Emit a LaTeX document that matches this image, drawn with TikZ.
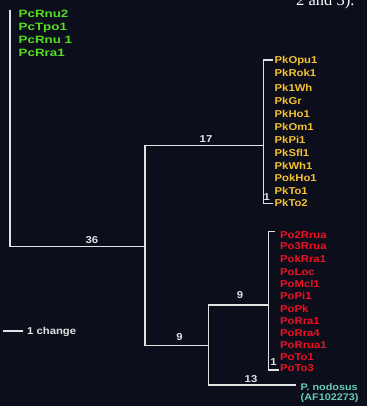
\documentclass[tikz,border=0pt]{standalone}
\usepackage{fontspec}
\setmainfont{Liberation Sans}
\newfontfamily\labfont{Liberation Sans Bold}[FakeStretch=1.13]
\newfontfamily\grfont{Liberation Sans Bold}[FakeStretch=1.26]
\newfontfamily\serf{Liberation Serif}
\usepackage{tikz}

\definecolor{bg}{HTML}{0D0E1C}
\definecolor{ln}{HTML}{E2E2E2}
\definecolor{pcgreen}{HTML}{55DD22}
\definecolor{pkyellow}{HTML}{F2C230}
\definecolor{pored}{HTML}{EE1122}
\definecolor{ndcyan}{HTML}{66CCBB}

\tikzset{
  br/.style={draw=ln, line width=1.2pt},
  lab/.style={anchor=west, inner sep=0pt, text height=7pt, text depth=0pt, font=\labfont\fontsize{10}{12}\selectfont},
  num/.style={inner sep=0pt, text height=7pt, text depth=0pt, text=ln, font=\labfont\fontsize{10}{12}\selectfont}
}

\begin{document}
\begin{tikzpicture}[x=1pt, y=-1pt] % pixel-like units, y goes down
  \fill[bg] (0,0) rectangle (367,406); % background
  \useasboundingbox (0,0) rectangle (367,406);

  \node[anchor=base west, inner sep=0pt, text=white, font=\serf\fontsize{16.5}{18}\selectfont] (cap) at (296,5.5) {2 and 3).}; % caption rest, cut at top

  % tree vertices
  \coordinate (root) at (10,10);
  \coordinate (nA) at (145,246.3);
  \coordinate (nPk) at (263.3,145.3);
  \coordinate (nC) at (208.7,345.7);
  \coordinate (nPo) at (268.3,305);
  \coordinate (tPk1) at (273.3,60);
  \coordinate (tPk2) at (273.3,203.3);
  \coordinate (tPo1) at (275,231.7);
  \coordinate (tPo2) at (279,370);
  \coordinate (tNd) at (296,385);

  \draw[br] (root) |- (nA); % stem of the outgroup clade
  \draw[br] (nA) |- (nPk);
  \draw[br] (nA) |- (nC);
  \draw[br] (tPk1) -| (nPk) |- (tPk2); % Pk clade
  \draw[br] (nPo) -| (nC) |- (tNd);
  \draw[br] (tPo1) -| (nPo) |- (tPo2); % Po clade

  % branch numbers
  \node[num] (l36) at (92,240) {36};
  \node[num] (l17) at (206,139) {17};
  \node[num] (l9a) at (179.5,336.7) {9};
  \node[num] (l9b) at (240,295.3) {9};
  \node[num] (l13) at (251,379) {13};
  \node[num] (l1a) at (266.7,197) {1};
  \node[num] (l1b) at (273.5,361.7) {1};

  % leaves
  \foreach \y/\t [count=\i] in {14.5/PcRnu2, 27/PcTpo1, 40.3/PcRnu 1, 53/PcRra1}
    \node[lab, text=pcgreen, font=\grfont\fontsize{10.6}{12}\selectfont] (pc\i) at (18.5,\y) {\t};
  \foreach \y/\t [count=\i] in {60/PkOpu1, 73/PkRok1, 88/Pk1Wh, 101/PkGr, 114/PkHo1, 127/PkOm1,
      140/PkPi1, 153/PkSfl1, 165.5/PkWh1, 178/PokHo1, 190.5/PkTo1, 203/PkTo2}
    \node[lab, text=pkyellow] (pk\i) at (274.5,\y) {\t};
  \foreach \y/\t [count=\i] in {234.5/Po2Rrua, 246/Po3Rrua, 258.5/PokRra1, 271.5/PoLoc, 283.5/PoMcl1,
      296/PoPi1, 309/PoPk, 320.7/PoRra1, 333.3/PoRra4, 345/PoRrua1, 357/PoTo1, 367.5/PoTo3}
    \node[lab, text=pored] (po\i) at (280,\y) {\t};
  \node[lab, text=ndcyan, font=\labfont\fontsize{9.6}{11}\selectfont] (nd1) at (300.5,387) {P. nodosus};
  \node[lab, text=ndcyan, font=\labfont\fontsize{9.6}{11}\selectfont] (nd2) at (300.5,397) {(AF102273)};

  % scale bar
  \coordinate (sb1) at (2.7,331);
  \coordinate (sb2) at (22.7,331);
  \draw[br] (sb1) -- (sb2);
  \node[lab, text=ln] (sbl) at (27,331) {1 change};
\end{tikzpicture}
\end{document}
